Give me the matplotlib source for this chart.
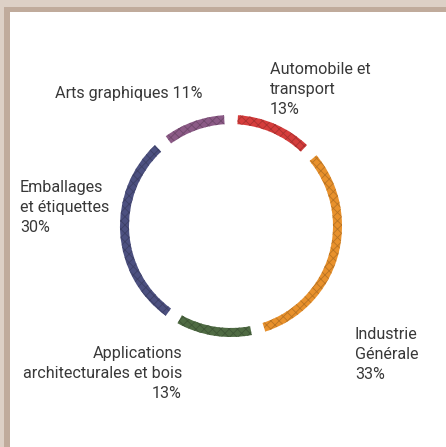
import matplotlib.pyplot as plt
from matplotlib.patches import Rectangle
from matplotlib.colors import to_rgb

# Market share by sector
sectors = ["Automobile et transport", "Industrie Générale",
           "Applications architecturales et bois",
           "Emballages et étiquettes", "Arts graphiques"]
shares = [13, 33, 13, 30, 11]
colors = ["#d53d3c", "#e8912c", "#4f6b43", "#4c5080", "#8b5a86"]
labels = ["Automobile et\ntransport\n13%", "Industrie\nGénérale\n33%",
          "Applications\narchitecturales et bois\n13%",
          "Emballages\net étiquettes\n30%", "Arts graphiques 11%"]

plt.rcParams['font.family'] = ['Roboto', 'DejaVu Sans']
plt.rcParams['hatch.linewidth'] = 0.6

W, H = 446, 447
fig = plt.figure(figsize=(W / 100, H / 100), dpi=100)
ax = fig.add_axes([0, 0, 1, 1])
ax.axis('off')

# beige frame along top and left edges
ax.add_patch(Rectangle((0, H - 7), W, 7, color="#ddd0c6", lw=0))
ax.add_patch(Rectangle((0, 0), 4, H, color="#ddd0c6", lw=0))
ax.add_patch(Rectangle((4, H - 12), W, 5, color="#c0ab9c", lw=0))
ax.add_patch(Rectangle((4, 0), 6, H - 7, color="#c0ab9c", lw=0))

wedges, _ = ax.pie(shares, colors=colors, startangle=90, counterclock=False,
                   center=(231, H - 226), radius=111,
                   wedgeprops=dict(width=9, linewidth=0))
ax.set_xlim(0, W)
ax.set_ylim(0, H)
ax.set_aspect('equal')

# open small gaps between segments, give the ring a grainy dotted fill
gap = 3.6
for w, c in zip(wedges, colors):
    w.set_theta1(w.theta1 + gap)
    w.set_theta2(w.theta2 - gap)
    w.set_hatch('xxxx')
    w.set_edgecolor(tuple(v * 0.8 for v in to_rgb(c)))

txt = dict(fontsize=11.6, color="#383838", linespacing=1.42)
ax.text(270, H - 62, labels[0], ha='left', va='top', **txt)
ax.text(355, H - 327, labels[1], ha='left', va='top', **txt)
ax.text(182, H - 346, labels[2], ha='right', va='top', multialignment='right', **txt)
ax.text(20, H - 180, labels[3], ha='left', va='top', **txt)
ax.text(55, H - 86, labels[4], ha='left', va='top', **txt)

fig.savefig("out.png", dpi=100)
